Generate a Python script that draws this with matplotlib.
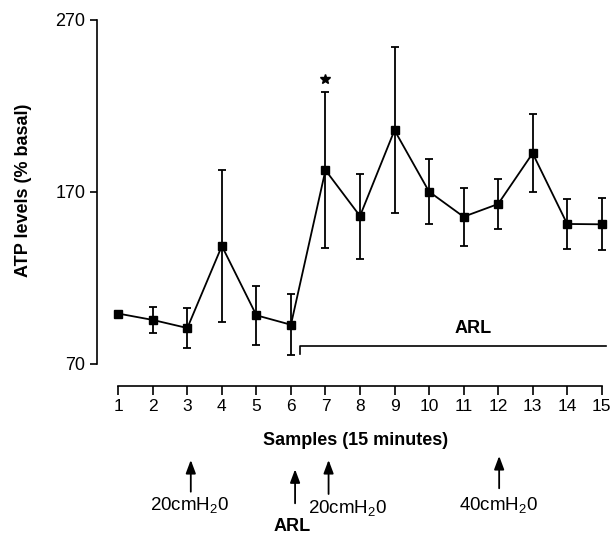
import matplotlib
matplotlib.use('Agg')
import matplotlib.pyplot as plt

plt.rcParams['font.family'] = ['Liberation Sans', 'DejaVu Sans']
plt.rcParams['mathtext.fontset'] = 'custom'
plt.rcParams['mathtext.rm'] = 'Liberation Sans'
plt.rcParams['mathtext.default'] = 'regular'

# ATP levels (% basal), mean and error per 15-minute sample
samples = list(range(1, 16))
atp_mean = [99.3, 95.6, 90.9, 138.6, 98.3, 92.8, 182.7, 156.0, 205.9,
            170.2, 155.6, 163.0, 192.5, 151.4, 151.2]
atp_err = [0.0, 7.8, 11.4, 44.2, 17.0, 17.8, 45.4, 24.7, 48.2,
           18.8, 17.0, 14.5, 22.8, 14.5, 15.2]
star_sample = 7

# ARL period bracket (sample range) drawn inside the plot
arl_start, arl_end = 6.26, 15.12

# stimulus events marked under the x axis
event_x = [3.1, 6.12, 7.09, 12.03]
event_labels = ['20cmH$_2$0', 'ARL', '20cmH$_2$0', '40cmH$_2$0']
event_label_x = [3.06, 6.02, 7.64, 12.02]

fig = plt.figure(figsize=(6.13, 5.34), dpi=100)
ax = fig.add_axes([0.1587, 0.3184, 0.8364, 0.6442])

ax.errorbar(samples, atp_mean, yerr=atp_err, color='black', lw=1.3,
            marker='s', markersize=5.5, elinewidth=1.3, capsize=3.1,
            capthick=1.3)

i = samples.index(star_sample)
ax.plot(star_sample, atp_mean[i] + atp_err[i] + 7.5, marker='*',
        color='black', markersize=7.5, clip_on=False)

# ARL bracket
ax.plot([arl_start, arl_start, arl_end], [75.9, 80.5, 80.5],
        color='black', lw=1.2, clip_on=False)
ax.text((arl_start + arl_end) / 2 + 0.6, 90.8, 'ARL', ha='center',
        va='center', fontsize=13, fontweight='bold')

ax.set_xlim(0.392, 15.24)
ax.set_ylim(70, 270)
ax.set_xticks(samples)
ax.set_yticks([70, 170, 270])

for s in ['top', 'right']:
    ax.spines[s].set_visible(False)
ax.spines['bottom'].set_position(('outward', 15.8))
ax.spines['bottom'].set_bounds(1, 15)
ax.spines['left'].set_bounds(70, 270)
for s in ['bottom', 'left']:
    ax.spines[s].set_linewidth(1.2)

ax.tick_params(axis='x', length=6.5, width=1.2, labelsize=12.5, pad=3)
ax.tick_params(axis='y', length=5, width=1.2, labelsize=13, pad=3.5)

ax.set_ylabel('ATP levels (% basal)', fontsize=13, fontweight='bold')
ax.yaxis.set_label_coords(-0.127, 0.504)
ax.set_xlabel('Samples (15 minutes)', fontsize=13, fontweight='bold')
ax.xaxis.set_label_coords(0.5046, -0.198)

# arrows and labels under the axis
tip_y = [0.1386, 0.1212, 0.1386, 0.1461]
tail_y = [0.0792, 0.0575, 0.0749, 0.0856]
label_y = [0.0543, 0.0137, 0.0487, 0.0543]
for x, lab, lx, ty, by, ly in zip(event_x, event_labels, event_label_x,
                                  tip_y, tail_y, label_y):
    ax.annotate('', xy=(x, ty), xytext=(x, by),
                xycoords=('data', 'figure fraction'),
                textcoords=('data', 'figure fraction'),
                arrowprops=dict(arrowstyle='-|>,head_length=0.8,head_width=0.3',
                                color='black', lw=1.3, shrinkA=0, shrinkB=0))
    weight = 'bold' if lab == 'ARL' else 'normal'
    size = 13 if lab == 'ARL' else 13.5
    ax.annotate(lab, xy=(lx, ly), xycoords=('data', 'figure fraction'),
                ha='center', va='center', fontsize=size, fontweight=weight)

fig.savefig('out.png', dpi=100)
